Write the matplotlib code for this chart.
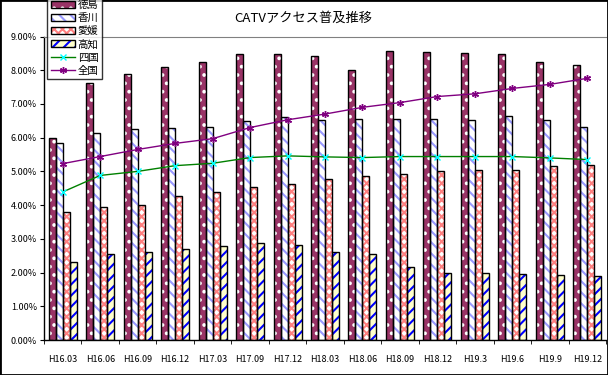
import matplotlib
matplotlib.use('Agg')
import matplotlib.pyplot as plt
from matplotlib.patches import Patch, Rectangle
import numpy as np

plt.rcParams['font.family'] = ['Noto Sans CJK JP', 'DejaVu Sans']
plt.rcParams['hatch.linewidth'] = 1.5

categories = ['H16.03', 'H16.06', 'H16.09', 'H16.12', 'H17.03', 'H17.09', 'H17.12',
              'H18.03', 'H18.06', 'H18.09', 'H18.12', 'H19.3', 'H19.6', 'H19.9', 'H19.12']

tokushima = [5.99, 7.62, 7.88, 8.09, 8.23, 8.47, 8.47, 8.41, 8.02, 8.56, 8.54, 8.51, 8.47, 8.24, 8.15]
kagawa = [5.85, 6.15, 6.27, 6.30, 6.33, 6.48, 6.60, 6.51, 6.54, 6.54, 6.56, 6.51, 6.63, 6.51, 6.33]
ehime = [3.80, 3.95, 4.01, 4.28, 4.39, 4.53, 4.63, 4.78, 4.87, 4.93, 5.00, 5.03, 5.05, 5.16, 5.20]
kochi = [2.31, 2.56, 2.61, 2.71, 2.79, 2.88, 2.82, 2.61, 2.56, 2.16, 1.99, 1.98, 1.96, 1.93, 1.90]
shikoku = [4.39, 4.88, 5.00, 5.17, 5.24, 5.41, 5.46, 5.43, 5.41, 5.44, 5.44, 5.44, 5.44, 5.40, 5.35]
zenkoku = [5.23, 5.44, 5.65, 5.83, 5.97, 6.30, 6.53, 6.70, 6.90, 7.04, 7.22, 7.30, 7.46, 7.58, 7.76]

# bar styles: (label, values, face, hatch colour, hatch)
bar_specs = [
    ('徳島', tokushima, '#993366', 'white', '..'),
    ('香川', kagawa, 'white', '#9999FF', '\\\\\\'),
    ('愛媛', ehime, 'white', '#FF8080', 'xxxx'),
    ('高知', kochi, '#FFFFCC', '#0000FF', '///'),
]

fig = plt.figure(figsize=(6.08, 3.75), dpi=100)
ax = fig.add_axes([44 / 608, 1 - 340 / 375, 562 / 608, 303.5 / 375])

x = np.arange(len(categories))
w = 0.187
handles = []
for i, (lab, vals, fc, hc, hatch) in enumerate(bar_specs):
    pos = x + (i - 1.5) * w
    ax.bar(pos, vals, w, color=fc, edgecolor=hc, hatch=hatch, linewidth=0, zorder=2)
    ax.bar(pos, vals, w, facecolor='none', edgecolor='black', linewidth=1.0, zorder=3)
    handles.append((Patch(facecolor=fc, edgecolor=hc, hatch=hatch, linewidth=0),
                    Patch(facecolor='none', edgecolor='black', linewidth=1.0)))

l1, = ax.plot(x, shikoku, color='#008000', lw=1.0, marker='x', ms=4.5,
              mec='#00FFFF', mew=1.0, zorder=4)
l2, = ax.plot(x, zenkoku, color='#800080', lw=1.0, marker=(6, 2, 0), ms=5,
              mec='#800080', mew=1.0, zorder=4)
handles += [l1, l2]

ax.set_xlim(-0.5, len(categories) - 0.5)
ax.set_ylim(0, 9)
ax.set_yticks(np.arange(0, 10, 1))
ax.set_yticklabels(['{:.2f}%'.format(v) for v in range(10)], fontsize=6.5)
ax.set_xticks(x)
ax.set_xticklabels(categories, fontsize=6.5)
ax.set_xticks(np.arange(-0.5, len(categories)), minor=True)
ax.tick_params(axis='x', which='major', length=0, pad=11)
ax.tick_params(axis='x', which='minor', length=3, direction='out')
ax.tick_params(axis='y', length=3, direction='out', pad=2)

ax.spines['top'].set_color('#808080')
ax.spines['right'].set_visible(False)
ax.spines['left'].set_linewidth(1.0)
ax.spines['bottom'].set_linewidth(1.0)

fig.text(303 / 608, 1 - 18 / 375, 'CATVアクセス普及推移', ha='center', va='center', fontsize=9.5)

labels = ['徳島', '香川', '愛媛', '高知', '四国', '全国']
leg = fig.legend(handles, labels, loc='upper left', bbox_to_anchor=(47 / 608, 1 + 4 / 375),
                 fontsize=7.5, frameon=True, fancybox=False, handlelength=2.3,
                 handleheight=0.65, labelspacing=0.3, borderpad=0.35,
                 handletextpad=0.3, borderaxespad=0)
leg.get_frame().set_edgecolor('black')
leg.get_frame().set_linewidth(1.0)

fig.patches.append(Rectangle((0, 0), 1, 1, transform=fig.transFigure, fill=False,
                             edgecolor='black', linewidth=2))

fig.savefig('out.png', dpi=100)
